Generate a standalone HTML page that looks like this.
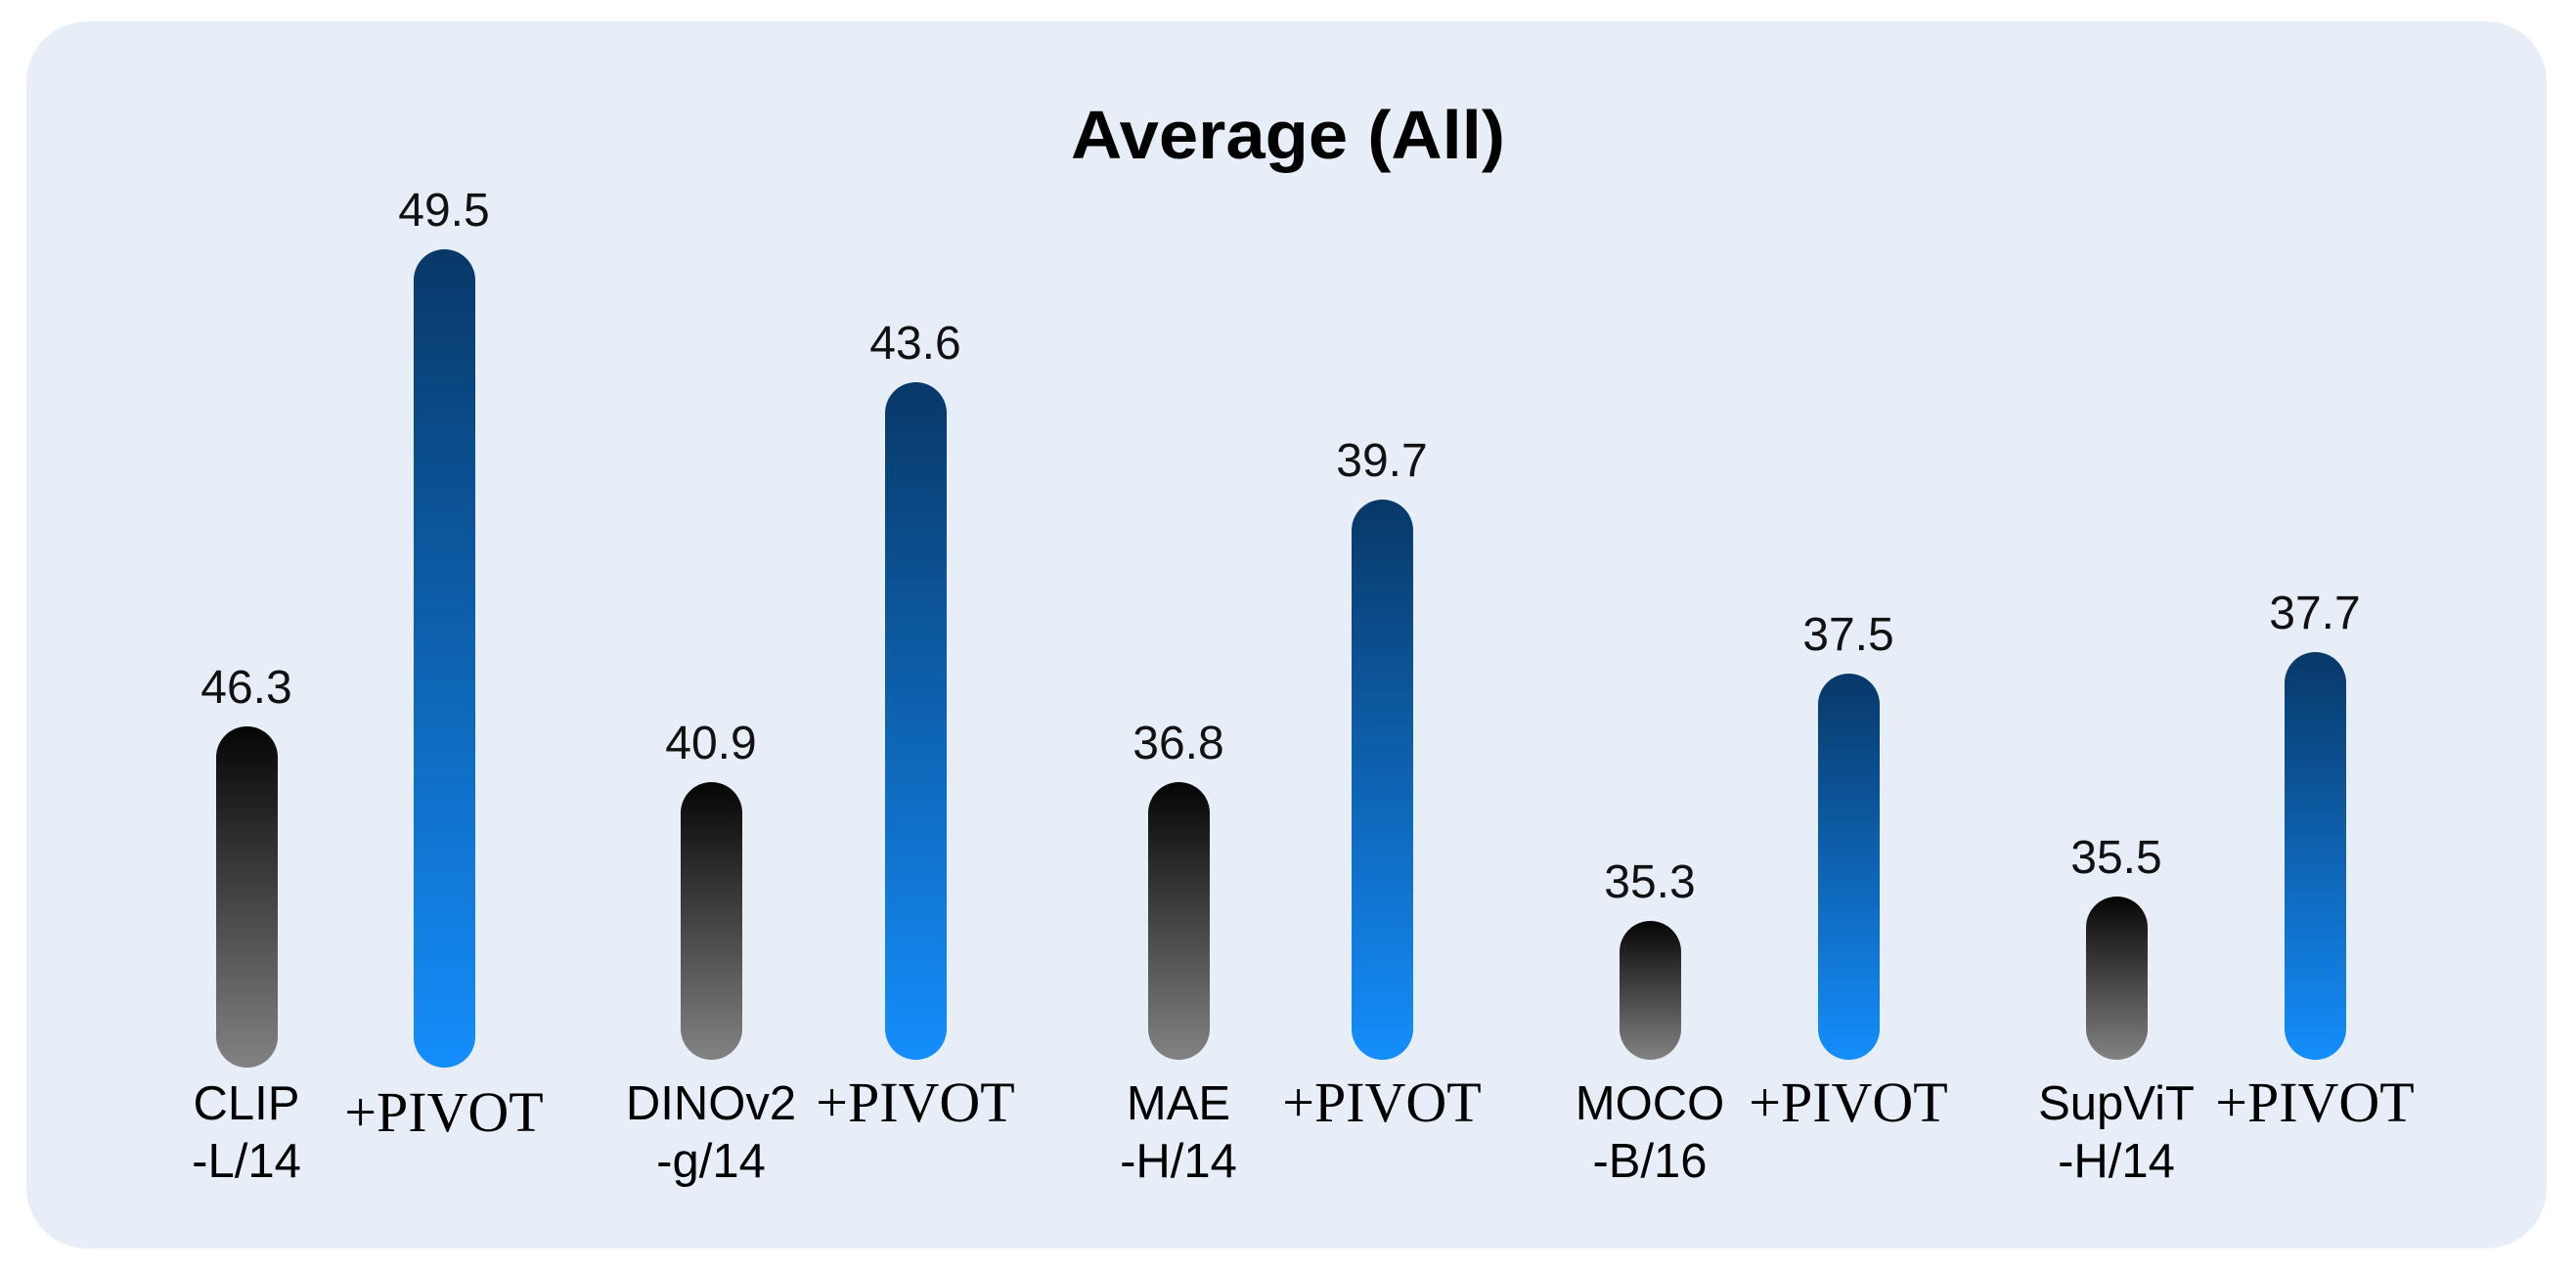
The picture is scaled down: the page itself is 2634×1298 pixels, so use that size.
<!DOCTYPE html>
<html><head><meta charset="utf-8"><style>
html,body{margin:0;padding:0;background:#fff;}
svg{display:block;}
</style></head><body>
<svg width="2634" height="1298" viewBox="0 0 2634 1298" xmlns="http://www.w3.org/2000/svg">
<defs>
<linearGradient id="gk" x1="0" y1="0" x2="0" y2="1"><stop offset="0" stop-color="#050505"/><stop offset="1" stop-color="#828282"/></linearGradient>
<linearGradient id="gb" x1="0" y1="0" x2="0" y2="1"><stop offset="0" stop-color="#083868"/><stop offset="1" stop-color="#148efc"/></linearGradient>
</defs>
<rect x="27" y="22" width="2577" height="1255" rx="62" fill="#e7eef7"/>
<text x="1317" y="162" text-anchor="middle" font-family="Liberation Sans, sans-serif" font-weight="bold" font-size="70" fill="#000" textLength="444" lengthAdjust="spacingAndGlyphs">Average (All)</text>
<g font-family="Liberation Sans, sans-serif" font-size="48" fill="#111" text-anchor="middle">
<rect x="221" y="743" width="63" height="349" rx="31.5" fill="url(#gk)"/><text x="252" y="719">46.3</text>
<rect x="423" y="255" width="63" height="837" rx="31.5" fill="url(#gb)"/><text x="454" y="231">49.5</text>
<rect x="696" y="800" width="63" height="284" rx="31.5" fill="url(#gk)"/><text x="727" y="776">40.9</text>
<rect x="905" y="391" width="63" height="693" rx="31.5" fill="url(#gb)"/><text x="936" y="367">43.6</text>
<rect x="1174" y="800" width="63" height="284" rx="31.5" fill="url(#gk)"/><text x="1205" y="776">36.8</text>
<rect x="1382" y="511" width="63" height="573" rx="31.5" fill="url(#gb)"/><text x="1413" y="487">39.7</text>
<rect x="1656" y="942" width="63" height="142" rx="31.5" fill="url(#gk)"/><text x="1687" y="918">35.3</text>
<rect x="1859" y="689" width="63" height="395" rx="31.5" fill="url(#gb)"/><text x="1890" y="665">37.5</text>
<rect x="2133" y="917" width="63" height="167" rx="31.5" fill="url(#gk)"/><text x="2164" y="893">35.5</text>
<rect x="2336" y="667" width="63" height="417" rx="31.5" fill="url(#gb)"/><text x="2367" y="643">37.7</text>
<g font-size="49" fill="#000">
<text x="252" y="1145">CLIP</text><text x="252" y="1204">-L/14</text>
<text x="727" y="1145">DINOv2</text><text x="727" y="1204">-g/14</text>
<text x="1205" y="1145">MAE</text><text x="1205" y="1204">-H/14</text>
<text x="1687" y="1145">MOCO</text><text x="1687" y="1204">-B/16</text>
<text x="2164" y="1145">SupViT</text><text x="2164" y="1204">-H/14</text>
</g>
<g font-family="Liberation Serif, serif" font-size="58" fill="#000">
<text x="454" y="1157">+PIVOT</text>
<text x="936" y="1147">+PIVOT</text>
<text x="1413" y="1147">+PIVOT</text>
<text x="1890" y="1147">+PIVOT</text>
<text x="2367" y="1147">+PIVOT</text>
</g>
</g>
</svg>
</body></html>
